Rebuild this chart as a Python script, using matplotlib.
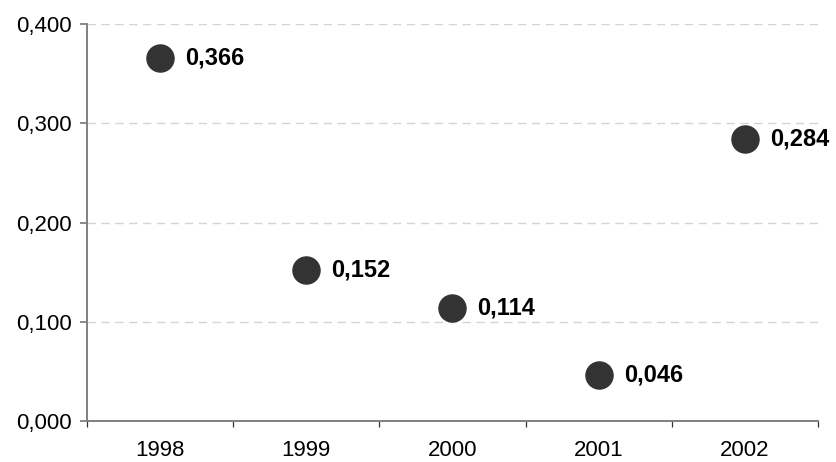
import numpy as np
import matplotlib
matplotlib.use("Agg")
import matplotlib.pyplot as plt
from matplotlib.ticker import FuncFormatter, FixedLocator

plt.rcParams["font.family"] = ["Liberation Sans", "DejaVu Sans"]

years = ["1998", "1999", "2000", "2001", "2002"]
values = [0.366, 0.152, 0.114, 0.046, 0.284]

fig = plt.figure(figsize=(8.36, 4.62), dpi=100)
ax = fig.add_axes([0.104, 0.0887, 0.8745, 0.8593])

x = np.arange(len(years))
ax.plot(x, values, "o", color="#333333", markersize=19.5, zorder=3, clip_on=False)
for xi, v in zip(x, values):
    ax.annotate(f"{v:.3f}".replace(".", ","), (xi, v), xytext=(18, 0),
                textcoords="offset points", ha="left", va="center",
                fontsize=17, fontweight="bold", color="black")

ax.set_xlim(-0.5, len(years) - 0.5)
ax.set_ylim(0, 0.4)
ax.set_yticks(np.arange(0, 0.41, 0.1))
ax.yaxis.set_major_formatter(FuncFormatter(lambda v, p: f"{v:.3f}".replace(".", ",")))

# year labels sit between the boundary tick marks
ax.xaxis.set_major_locator(FixedLocator(np.arange(-0.5, len(years), 1.0)))
ax.xaxis.set_major_formatter(FuncFormatter(lambda v, p: ""))
ax.set_xticks(x, minor=True)
ax.set_xticklabels(years, minor=True)
ax.tick_params(axis="x", which="minor", length=0, pad=14, labelsize=16)
ax.tick_params(axis="x", which="major", length=4.5, width=0.9, color="#333333")
ax.tick_params(axis="y", length=5, width=1.3, color="#808080", pad=6, labelsize=16)

for s in ["top", "right"]:
    ax.spines[s].set_visible(False)
for s in ["left", "bottom"]:
    ax.spines[s].set_color("#808080")
    ax.spines[s].set_linewidth(1.4)

for gy in [0.1, 0.2, 0.3, 0.4]:
    ax.axhline(gy, color="#d4d4d4", linewidth=1, linestyle=(0, (6, 4)), zorder=1)

plt.savefig("out.png", dpi=100)
